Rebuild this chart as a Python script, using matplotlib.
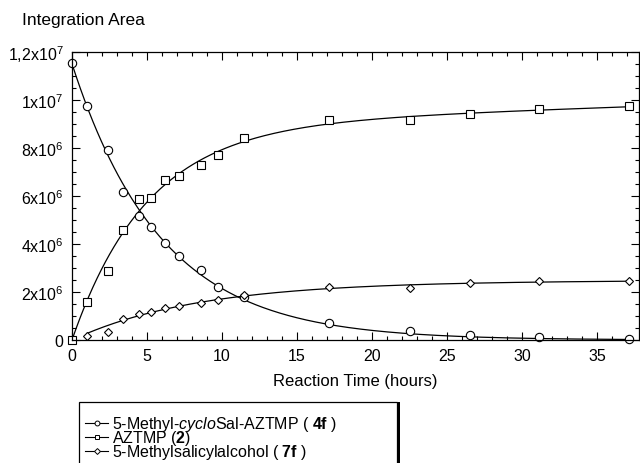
import numpy as np
import matplotlib.pyplot as plt
from matplotlib.lines import Line2D
from matplotlib.patches import Rectangle
from matplotlib.ticker import MultipleLocator, FixedLocator, FixedFormatter

plt.rcParams["font.family"] = ["Liberation Sans", "DejaVu Sans"]
plt.rcParams["mathtext.fontset"] = "custom"
plt.rcParams["mathtext.rm"] = "Liberation Sans"
plt.rcParams["mathtext.it"] = "Liberation Sans:italic"
plt.rcParams["mathtext.bf"] = "Liberation Sans:bold"

# =========================
# DATA (values in 1e6)
# =========================
t = np.array([0, 1.0, 2.42, 3.4, 4.45, 5.25, 6.2, 7.15, 8.6, 9.75,
              11.45, 17.15, 22.55, 26.55, 31.15, 37.1])
cyclosal = np.array([11.54, 9.76, 7.92, 6.18, 5.15, 4.72, 4.04, 3.5, 2.92, 2.2,
                     1.78, 0.71, 0.375, 0.21, 0.14, 0.04]) * 1e6
aztmp = np.array([0, 1.6, 2.86, 4.58, 5.88, 5.9, 6.65, 6.82, 7.29, 7.7,
                  8.39, 9.14, 9.17, 9.39, 9.6, 9.74]) * 1e6
t_alc = t[1:]
alcohol = np.array([0.18, 0.35, 0.875, 1.08, 1.18, 1.32, 1.43, 1.54, 1.68,
                    1.875, 2.2, 2.15, 2.38, 2.45, 2.45]) * 1e6

labels = [
    r"5-Methyl-$\mathit{cyclo}$Sal-AZTMP ( $\mathbf{4f}$ )",
    r"AZTMP ($\mathbf{2}$)",
    r"5-Methylsalicylalcohol ( $\mathbf{7f}$ )",
]
xticks = [0, 5, 10, 15, 20, 25, 30, 35]
yticks = [0, 2e6, 4e6, 6e6, 8e6, 1e7, 1.2e7]
ytick_labels = ["0", r"2x10$^6$", r"4x10$^6$", r"6x10$^6$", r"8x10$^6$",
                r"1x10$^7$", r"1,2x10$^7$"]


# =========================
# FITS (numpy only, grid over rate constant k)
# =========================
def fit_curve(x, y, basis):
    best = None
    for k in np.linspace(0.01, 1.5, 1500):
        A = basis(x, k)
        coef = np.linalg.lstsq(A, y, rcond=None)[0]
        err = np.sum((A @ coef - y) ** 2)
        if best is None or err < best[0]:
            best = (err, k, coef)
    _, k, coef = best
    return lambda xx: basis(xx, k) @ coef


def decay(x, k):
    return np.column_stack([np.exp(-k * x)])


def rise(x, k):
    return np.column_stack([1 - np.exp(-k * x), x])


f_cyc = fit_curve(t, cyclosal, decay)
f_az = fit_curve(t, aztmp, rise)
f_alc = fit_curve(t_alc, alcohol, rise)

tt = np.linspace(0, t.max(), 400)
tt_alc = np.linspace(t_alc.min(), t_alc.max(), 400)

# =========================
# PLOT
# =========================
W, H = 640, 464
fig = plt.figure(figsize=(6.4, 4.64), dpi=100)
ax = fig.add_axes([72 / W, 1 - 341 / H, (639 - 72) / W, (341 - 52.7) / H])

lw = 0.9
ax.plot(tt, f_cyc(tt), color="black", lw=lw)
ax.plot(tt, f_az(tt), color="black", lw=lw)
ax.plot(tt_alc, f_alc(tt_alc), color="black", lw=lw)

mk = dict(linestyle="none", color="black", mfc="white", mew=0.8, clip_on=False)
ax.plot(t, cyclosal, marker="o", ms=6, **mk)
ax.plot(t, aztmp, marker="s", ms=6, **mk)
ax.plot(t_alc, alcohol, marker="D", ms=4.5, **mk)

ax.set_xlim(0, 37.8)
ax.set_ylim(0, 1.2e7)
ax.xaxis.set_major_locator(FixedLocator(xticks))
ax.xaxis.set_minor_locator(MultipleLocator(1))
ax.yaxis.set_major_locator(FixedLocator(yticks))
ax.yaxis.set_major_formatter(FixedFormatter(ytick_labels))
ax.yaxis.set_minor_locator(MultipleLocator(5e5))
ax.tick_params(which="both", direction="in", top=True, right=True,
               width=0.8, labelsize=11.5, pad=6)
ax.tick_params(which="major", length=6)
ax.tick_params(which="minor", length=3)
for s in ax.spines.values():
    s.set_linewidth(0.9)

ax.set_xlabel("Reaction Time (hours)", fontsize=12, labelpad=7)
fig.text(22 / W, 1 - 21 / H, "Integration Area", fontsize=12.5, va="center")

# =========================
# LEGEND (hand-made: box with drop shadow, cut off at bottom)
# =========================
shadow = Rectangle((82 / W, -10 / H), 318 / W, 71 / H, transform=fig.transFigure,
                   facecolor="black", edgecolor="none", zorder=1)
box = Rectangle((79 / W, -7 / H), 318 / W, 68 / H, transform=fig.transFigure,
                facecolor="white", edgecolor="black", lw=0.9, zorder=2)
fig.add_artist(shadow)
fig.add_artist(box)

markers = [("o", 3.5), ("s", 3.5), ("D", 3)]
row_y = [424, 438, 452]
for (m, ms), lab, yc in zip(markers, labels, row_y):
    yf = 1 - yc / H
    fig.add_artist(Line2D([85 / W, 108 / W], [yf, yf], transform=fig.transFigure,
                          color="black", lw=0.8, zorder=3))
    fig.add_artist(Line2D([96.5 / W], [yf], transform=fig.transFigure, linestyle="none",
                          marker=m, ms=ms, color="black", mfc="white", mew=0.7, zorder=4))
    fig.text(112 / W, 1 - (yc + 5) / H, lab, fontsize=11.5, va="baseline", zorder=4)

fig.savefig("out.png", dpi=100)
